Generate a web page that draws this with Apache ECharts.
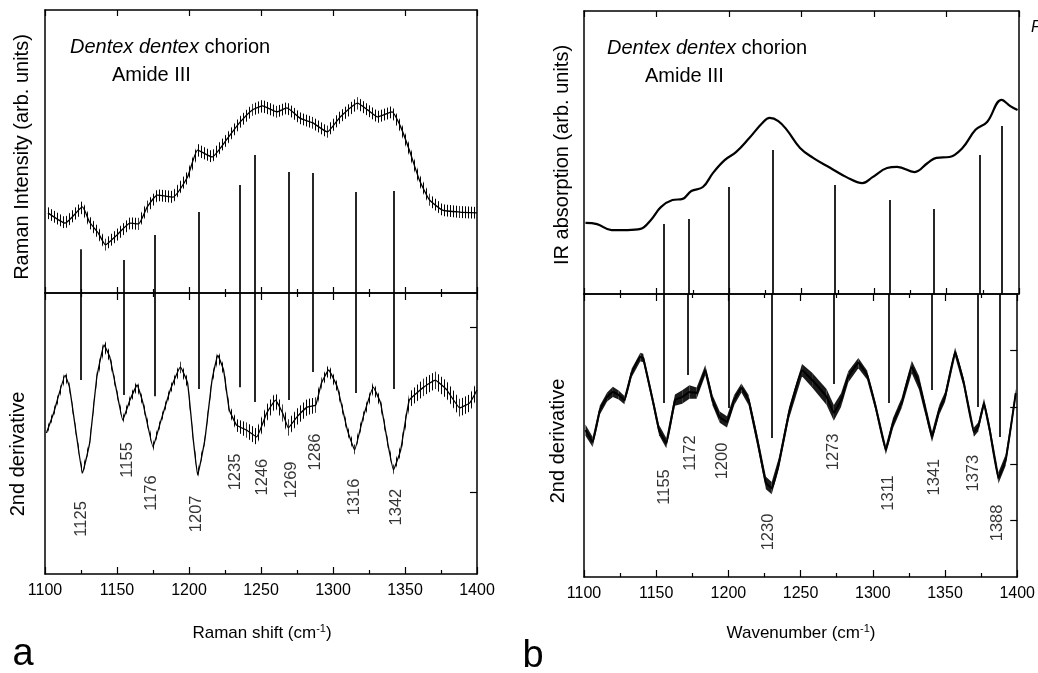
<!DOCTYPE html>
<html><head><meta charset="utf-8">
<script src="https://cdn.jsdelivr.net/npm/echarts@6/dist/echarts.min.js"></script>
<style>html,body{margin:0;padding:0;background:#fff}#c{width:1038px;height:673px}</style>
</head><body><div id="c"></div>
<script>
// ---------- DATA ----------
const xTicks = [1100, 1150, 1200, 1250, 1300, 1350, 1400];

// (a) Raman spectrum (arb. units)
const ramanX   = [1102,1114,1126,1131,1137,1142,1150,1159,1165,1171,1178,1189,1199,1206,1216,1226,1235,1244,1251,1261,1268,1277,1286,1296,1305,1317,1324,1331,1341,1347,1353,1360,1367,1376,1388,1400];
const ramanY   = [28.3,24.7,30.4,25.0,21.2,17.0,20.5,24.7,24.4,30.4,34.6,33.9,41.0,50.5,48.1,54.1,60.1,64.7,66.1,64.0,65.4,61.8,60.1,56.9,62.2,67.1,64.7,62.2,64.0,58.7,50.5,39.9,32.9,29.3,28.6,28.3];
const ramanErr = [2.1,2.1,2.2,2.1,2.1,2.1,2.1,2.1,2.1,2.1,2.1,2.1,2.1,2.2,2.1,2.1,2.1,2.1,2.2,2.1,2.1,2.1,2.1,2.1,2.1,2.2,2.1,2.1,2.1,2.1,2.1,2.1,2.1,2.1,2.1,2.1];

// (a) Raman 2nd derivative
const ramanDX   = [1101,1106,1114,1117,1122,1126,1131,1136,1141,1145,1150,1154,1159,1164,1168,1175,1180,1187,1194,1199,1203,1206,1211,1216,1220,1224,1228,1233,1240,1247,1254,1260,1265,1269,1275,1282,1288,1292,1297,1303,1310,1315,1321,1328,1333,1338,1342,1347,1353,1363,1371,1379,1388,1395,1400];
const ramanDY   = [50.2,57.3,70.8,66.5,48.8,35.9,46.6,70.1,81.5,77.2,64.4,54.8,61.9,67.3,60.9,45.2,53.7,65.5,73.7,68.0,47.7,35.2,47.7,69.0,77.9,72.6,58.4,53.0,51.2,48.8,57.3,61.9,57.3,52.0,55.9,59.4,60.1,68.0,72.6,66.5,51.2,44.1,55.9,66.5,60.9,46.6,37.0,44.1,61.9,66.5,69.0,65.5,59.1,60.9,65.5];
const ramanDErr = [1.2,1.3,1.8,1.5,1.3,1.5,1.3,1.8,2.2,1.8,1.3,1.3,1.5,1.8,1.5,1.5,1.3,1.5,2.0,1.8,1.3,1.5,1.3,1.6,2.0,1.8,1.8,2.2,2.7,2.9,2.9,2.7,2.9,2.9,2.9,2.9,2.7,1.8,2.0,1.7,1.6,1.7,1.6,2.0,1.8,1.5,1.6,1.8,2.7,3.1,3.1,3.1,3.1,3.1,2.9];

// (a) band assignments
const ramanBands    = [1125,1155,1176,1207,1235,1246,1269,1286,1316,1342];
const ramanBandTop  = [15.5,11.7,20.5,28.6,38.2,48.8,42.8,42.4,35.7,36.0];
const ramanBandEnd  = [69.0,63.7,63.3,65.8,66.5,61.2,61.9,71.9,64.4,65.8];
const ramanLabelX   = [1125,1157,1174,1205,1232,1251,1271,1288,1315,1344];
const ramanLabelY   = [19.6,40.6,28.8,21.4,36.3,34.5,33.5,43.4,27.4,23.8];

// (b) IR absorption
const irX = [1101,1109,1119,1130,1139,1146,1153,1161,1168,1174,1182,1189,1197,1205,1214,1223,1228,1234,1240,1249,1258,1270,1281,1292,1299,1309,1316,1328,1337,1343,1352,1361,1370,1378,1388,1394,1399];
const irY = [25.1,24.7,22.6,22.6,23.0,26.1,30.7,33.2,33.6,36.4,37.8,42.8,47.3,50.2,55.1,60.4,62.2,61.1,57.9,51.6,48.1,44.5,41.3,39.2,41.3,44.5,44.9,43.1,46.3,48.1,48.4,51.6,58.0,60.8,68.6,66.4,65.0];

// (b) IR 2nd derivative
const irDX   = [1101,1106,1111,1116,1120,1124,1128,1133,1139,1141,1148,1152,1157,1163,1168,1173,1178,1184,1189,1194,1199,1204,1209,1214,1220,1226,1230,1235,1242,1251,1258,1268,1273,1278,1283,1290,1296,1302,1309,1314,1320,1327,1332,1337,1341,1346,1350,1357,1363,1370,1373,1377,1381,1387,1392,1396,1399];
const irDY   = [51.9,47.7,59.0,63.6,65.4,64.3,62.5,72.1,77.7,77.4,61.5,51.9,47.3,62.5,63.6,65.4,65.0,73.1,62.5,56.5,54.8,62.5,66.8,62.5,48.4,33.2,31.4,40.3,58.0,73.1,69.6,63.6,58.0,62.5,70.7,75.6,71.4,60.1,44.9,54.4,61.5,74.2,68.6,58.0,49.5,59.0,63.6,79.5,68.6,51.2,53.0,61.5,51.9,35.0,41.3,54.4,65.0];
const irDErr = [2.0,1.8,1.6,1.6,1.8,1.6,1.5,1.5,1.5,1.5,1.6,1.8,1.8,2.0,2.4,2.4,2.0,1.8,1.8,2.0,2.0,1.8,1.6,1.8,2.0,2.2,2.2,2.0,2.0,2.2,2.6,2.8,2.8,2.4,2.0,1.8,1.6,1.5,1.6,1.8,1.8,2.2,2.4,2.0,1.8,1.8,1.8,1.6,1.6,1.6,1.6,1.6,1.8,2.0,2.0,1.8,1.6];

// (b) band assignments
const irBands    = [1155,1172,1200,1230,1273,1311,1341,1373,1388];
const irBandTop  = [24.7,26.5,37.8,50.9,38.5,33.2,30.0,49.1,59.4];
const irBandEnd  = [61.5,71.4,59.7,49.1,68.2,61.5,66.1,60.1,49.5];
const irLabelX   = [1156,1174,1196,1228,1273,1311,1343,1370,1386];
const irLabelY   = [31.8,43.8,41.0,15.9,44.2,29.7,35.3,36.7,19.1];

// ---------- CHART ----------
const FONT = "'Liberation Sans', Arial, sans-serif";
const chart = echarts.init(document.getElementById('c'), null, {renderer: 'canvas'});

function makeHatch(color, w) {
  const c = document.createElement('canvas');
  c.width = w; c.height = 4;
  const g = c.getContext('2d');
  g.fillStyle = color; g.fillRect(0, 0, 1, 4);
  return {image: c, repeat: 'repeat'};
}
const hatch = makeHatch('#000', 3);

const grids = [
  {left: 45,  top: 10,  width: 432, height: 283},
  {left: 45,  top: 293, width: 432, height: 281},
  {left: 584, top: 11,  width: 435, height: 283},
  {left: 584, top: 294, width: 435, height: 283}
];

const lineStyle = {color: '#000', width: 1.5};
function xAx(grid, pos, labels, tickLen, minorLen) {
  return {
    type: 'value', gridIndex: grid, position: pos, min: 1100, max: 1400, interval: 50,
    axisLine: {show: true, onZero: false, lineStyle: lineStyle},
    axisTick: {show: true, inside: true, length: tickLen, lineStyle: {color: '#000', width: 1.2}},
    minorTick: {show: minorLen > 0, splitNumber: 2, length: minorLen, lineStyle: {color: '#000', width: 1.2}},
    axisLabel: {show: labels, margin: 9, color: '#000', fontSize: 16, fontFamily: FONT, formatter: v => String(v)},
    splitLine: {show: false}
  };
}
function yAx(grid, pos, ticks) {
  const o = {
    type: 'value', gridIndex: grid, position: pos, min: 0, max: 100,
    axisLine: {show: true, onZero: false, lineStyle: lineStyle},
    axisTick: {show: false},
    axisLabel: {show: false},
    splitLine: {show: false}
  };
  if (ticks) {
    o.axisTick = {show: true, inside: true, length: 7, customValues: ticks, lineStyle: {color: '#000', width: 1.2}};
  }
  return o;
}

const xAxis = [
  xAx(0, 'top', false, 6, 0),  xAx(0, 'bottom', false, 6, 4),
  xAx(1, 'top', false, 7, 4),  xAx(1, 'bottom', true, 7, 4),
  xAx(2, 'top', false, 6, 0),  xAx(2, 'bottom', false, 6, 4),
  xAx(3, 'top', false, 7, 4),  xAx(3, 'bottom', true, 7, 4)
];
const yAxis = [
  yAx(0, 'left'), yAx(0, 'right'),
  yAx(1, 'left'), yAx(1, 'right', [29.2, 87.9]),
  yAx(2, 'left'), yAx(2, 'right'),
  yAx(3, 'left'), yAx(3, 'right', [20, 40, 60, 80])
];

function bandSeries(xs, ys, es, xi, yi, fill) {
  return {
    type: 'custom', xAxisIndex: xi, yAxisIndex: yi, silent: true, z: 2,
    data: xs.map((x, i) => [x, ys[i]]),
    renderItem: function (params, api) {
      const i = params.dataIndex;
      if (i >= xs.length - 1) return null;
      const p1 = api.coord([xs[i], ys[i] + es[i]]);
      const p2 = api.coord([xs[i + 1], ys[i + 1] + es[i + 1]]);
      const p3 = api.coord([xs[i + 1], ys[i + 1] - es[i + 1]]);
      const p4 = api.coord([xs[i], ys[i] - es[i]]);
      return {type: 'polygon', shape: {points: [p1, p2, p3, p4]}, style: {fill: fill, stroke: null}};
    }
  };
}
function curve(xs, ys, xi, yi, width, smooth, ml) {
  const s = {
    type: 'line', xAxisIndex: xi, yAxisIndex: yi, symbol: 'none', silent: true, z: 3,
    smooth: smooth,
    data: xs.map((x, i) => [x, ys[i]]),
    lineStyle: {color: '#000', width: width}
  };
  if (ml) {
    s.markLine = {
      silent: true, symbol: ['none', 'none'], label: {show: false},
      lineStyle: {color: '#000', width: 1.7, type: 'solid'},
      emphasis: {disabled: true},
      data: ml
    };
  }
  return s;
}
function topLines(bands, tops) {
  return bands.map((b, i) => [{coord: [b, tops[i]]}, {coord: [b, 0]}]);
}
function bottomLines(bands, ends) {
  return bands.map((b, i) => [{coord: [b, 100]}, {coord: [b, ends[i]]}]);
}
function labelSeries(lx, ly, names, xi, yi) {
  return {
    type: 'scatter', xAxisIndex: xi, yAxisIndex: yi, silent: true, symbolSize: 1, z: 5,
    itemStyle: {color: 'rgba(0,0,0,0)'},
    data: lx.map((x, i) => [x, ly[i], String(names[i])]),
    label: {
      show: true, position: 'inside', rotate: 90, color: '#000',
      fontSize: 16.5, fontFamily: FONT,
      formatter: p => p.value[2]
    }
  };
}

const series = [
  bandSeries(ramanX, ramanY, ramanErr, 1, 0, hatch),
  curve(ramanX, ramanY, 1, 0, 1.3, 0.15, topLines(ramanBands, ramanBandTop)),
  bandSeries(ramanDX, ramanDY, ramanDErr, 3, 2, hatch),
  curve(ramanDX, ramanDY, 3, 2, 1.3, 0.1, bottomLines(ramanBands, ramanBandEnd)),
  labelSeries(ramanLabelX, ramanLabelY, ramanBands, 3, 2),
  curve(irX, irY, 5, 4, 2.2, 0.4, topLines(irBands, irBandTop)),
  bandSeries(irDX, irDY, irDErr, 7, 6, '#1a1a1a'),
  curve(irDX, irDY, 7, 6, 2, 0.1, bottomLines(irBands, irBandEnd)),
  labelSeries(irLabelX, irLabelY, irBands, 7, 6)
];

function txt(x, y, text, size, extra) {
  return Object.assign({
    type: 'text', x: x, y: y, silent: true,
    style: Object.assign({text: text, fontSize: size, fontFamily: FONT, fill: '#000', align: 'left', verticalAlign: 'middle'}, (extra && extra.style) || {})
  }, extra && extra.rot !== undefined ? {rotation: extra.rot} : {});
}
const rich = {i: {fontStyle: 'italic', fontSize: 20, fontFamily: FONT}, n: {fontSize: 20, fontFamily: FONT}};
const supRich = {n: {fontSize: 17, fontFamily: FONT, fill: '#000'}, s: {fontSize: 11, fontFamily: FONT, fill: '#000', padding: [0, 0, 9, 0]}};

const graphic = [
  txt(70, 47, '{i|Dentex dentex}{n| chorion}', 20, {style: {rich: rich}}),
  txt(112, 75, 'Amide III', 20),
  txt(607, 48, '{i|Dentex dentex}{n| chorion}', 20, {style: {rich: rich}}),
  txt(645, 76, 'Amide III', 20),
  txt(22, 157, 'Raman Intensity (arb. units)', 20, {rot: Math.PI / 2, style: {align: 'center'}}),
  txt(18, 454, '2nd derivative', 20, {rot: Math.PI / 2, style: {align: 'center'}}),
  txt(562, 155, 'IR absorption (arb. units)', 20, {rot: Math.PI / 2, style: {align: 'center'}}),
  txt(558, 441, '2nd derivative', 20, {rot: Math.PI / 2, style: {align: 'center'}}),
  txt(262, 633, '{n|Raman shift (cm}{s|-1}{n|)}', 17, {style: {align: 'center', rich: supRich}}),
  txt(801, 633, '{n|Wavenumber (cm}{s|-1}{n|)}', 17, {style: {align: 'center', rich: supRich}}),
  txt(23, 655, 'a', 38, {style: {align: 'center'}}),
  txt(533, 657, 'b', 38, {style: {align: 'center'}}),
  txt(1031, 28, 'F', 16, {style: {fontStyle: 'italic'}})
];

chart.setOption({
  animation: false,
  backgroundColor: '#fff',
  grid: grids,
  xAxis: xAxis,
  yAxis: yAxis,
  series: series,
  graphic: graphic
});
</script>
</body></html>
